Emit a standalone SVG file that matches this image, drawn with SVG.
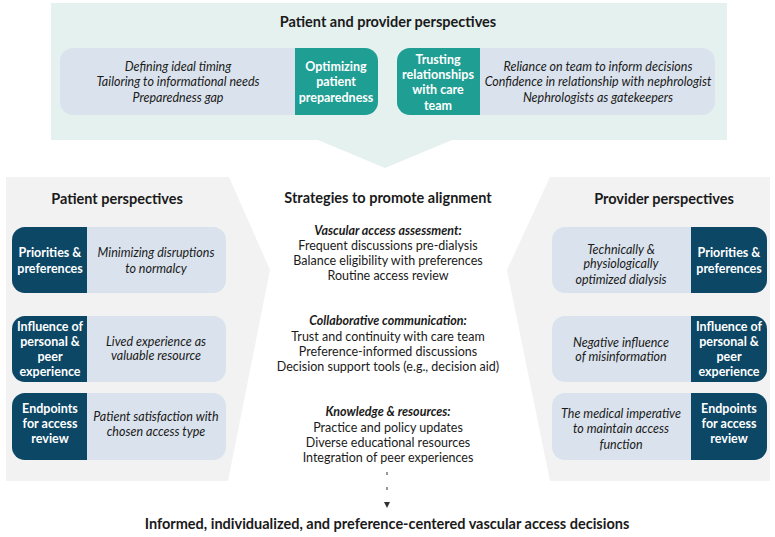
<svg xmlns="http://www.w3.org/2000/svg" width="775" height="537" viewBox="0 0 775 537">
<style>
text{font-family:Lato,"Open Sans","Liberation Sans",sans-serif;text-anchor:middle;fill:#1a1a1a}
.h{font-weight:bold;font-size:14.5px}
.b{font-size:12.5px}
.i{font-style:italic;font-size:12.5px}
.bi{font-style:italic;font-weight:bold;font-size:12.5px}
.w{font-weight:bold;font-size:12.5px;fill:#ffffff}
.lb{fill:#dae3ed}
.tl{fill:#1f9e93}
.nv{fill:#0c4766}
.gr{fill:#f2f2f2}
</style>
<defs>
<marker id="ah" viewBox="0 0 10 10" refX="10" refY="5" markerWidth="6" markerHeight="6" orient="auto" markerUnits="userSpaceOnUse">
<path d="M0 0 L10 5 L0 10 Z" fill="#333"/>
</marker>
</defs>
<!-- Top panel -->
<g id="top-panel">
<path d="M51 3 H727 V140 H452 L385 168 L318 140 H51 Z" fill="#e5f1ef"/>
<text class="h" x="388" y="27">Patient and provider perspectives</text>
</g>
<g id="node-optimizing">
<rect class="lb" x="60" y="48" width="318" height="67" rx="13"/>
<path class="tl" d="M295 48 H365 A13 13 0 0 1 378 61 V102 A13 13 0 0 1 365 115 H295 Z"/>
<text class="i" x="178" y="71">Defining ideal timing</text>
<text class="i" x="178" y="86">Tailoring to informational needs</text>
<text class="i" x="178" y="102">Preparedness gap</text>
<text class="w" x="336" y="71">Optimizing</text>
<text class="w" x="336" y="86">patient</text>
<text class="w" x="336" y="102">preparedness</text>
</g>
<g id="node-trusting">
<rect class="lb" x="397" y="48" width="318" height="67" rx="13"/>
<path class="tl" d="M480 48 H410 A13 13 0 0 0 397 61 V102 A13 13 0 0 0 410 115 H480 Z"/>
<text class="w" x="438" y="64">Trusting</text>
<text class="w" x="438" y="79" textLength="72" lengthAdjust="spacingAndGlyphs">relationships</text>
<text class="w" x="438" y="94">with care</text>
<text class="w" x="438" y="110">team</text>
<text class="i" x="598" y="71">Reliance on team to inform decisions</text>
<text class="i" x="598" y="86">Confidence in relationship with nephrologist</text>
<text class="i" x="598" y="102">Nephrologists as gatekeepers</text>
</g>
<!-- Left panel -->
<g id="patient-panel">
<path class="gr" d="M6 177 H229 L270 270 L228 481 H6 Z"/>
<text class="h" x="117" y="204">Patient perspectives</text>
</g>
<g id="node-p-priorities">
<rect class="lb" x="12" y="227" width="214" height="66" rx="13"/>
<path class="nv" d="M87 227 H25 A13 13 0 0 0 12 240 V280 A13 13 0 0 0 25 293 H87 Z"/>
<text class="w" x="50" y="257">Priorities &amp;</text>
<text class="w" x="50" y="273">preferences</text>
<text class="i" x="156" y="257">Minimizing disruptions</text>
<text class="i" x="156" y="273">to normalcy</text>
</g>
<g id="node-p-influence">
<rect class="lb" x="12" y="316" width="214" height="66" rx="13"/>
<path class="nv" d="M87 316 H25 A13 13 0 0 0 12 329 V369 A13 13 0 0 0 25 382 H87 Z"/>
<text class="w" x="50" y="331">Influence of</text>
<text class="w" x="50" y="346">personal &amp;</text>
<text class="w" x="50" y="361">peer</text>
<text class="w" x="50" y="376">experience</text>
<text class="i" x="156" y="346">Lived experience as</text>
<text class="i" x="156" y="360">valuable resource</text>
</g>
<g id="node-p-endpoints">
<rect class="lb" x="12" y="393" width="214" height="67" rx="13"/>
<path class="nv" d="M87 393 H25 A13 13 0 0 0 12 406 V447 A13 13 0 0 0 25 460 H87 Z"/>
<text class="w" x="50" y="413">Endpoints</text>
<text class="w" x="50" y="428">for access</text>
<text class="w" x="50" y="443">review</text>
<text class="i" x="156" y="421">Patient satisfaction with</text>
<text class="i" x="156" y="436">chosen access type</text>
</g>
<!-- Right panel -->
<g id="provider-panel">
<path class="gr" d="M550 177 H770 V481 H550 L507 270 Z"/>
<text class="h" x="664" y="204">Provider perspectives</text>
</g>
<g id="node-r-priorities">
<rect class="lb" x="552" y="227" width="215" height="66" rx="13"/>
<path class="nv" d="M691 227 H754 A13 13 0 0 1 767 240 V280 A13 13 0 0 1 754 293 H691 Z"/>
<text class="i" x="621" y="254">Technically &amp;</text>
<text class="i" x="621" y="268">physiologically</text>
<text class="i" x="621" y="284">optimized dialysis</text>
<text class="w" x="729" y="257">Priorities &amp;</text>
<text class="w" x="729" y="273">preferences</text>
</g>
<g id="node-r-influence">
<rect class="lb" x="552" y="316" width="215" height="66" rx="13"/>
<path class="nv" d="M691 316 H754 A13 13 0 0 1 767 329 V369 A13 13 0 0 1 754 382 H691 Z"/>
<text class="i" x="621" y="347">Negative influence</text>
<text class="i" x="621" y="361">of misinformation</text>
<text class="w" x="729" y="331">Influence of</text>
<text class="w" x="729" y="346">personal &amp;</text>
<text class="w" x="729" y="361">peer</text>
<text class="w" x="729" y="376">experience</text>
</g>
<g id="node-r-endpoints">
<rect class="lb" x="552" y="393" width="215" height="67" rx="13"/>
<path class="nv" d="M691 393 H754 A13 13 0 0 1 767 406 V447 A13 13 0 0 1 754 460 H691 Z"/>
<text class="i" x="621" y="418">The medical imperative</text>
<text class="i" x="621" y="433">to maintain access</text>
<text class="i" x="621" y="449">function</text>
<text class="w" x="729" y="413">Endpoints</text>
<text class="w" x="729" y="428">for access</text>
<text class="w" x="729" y="443">review</text>
</g>
<!-- Center -->
<g id="strategies">
<text class="h" x="388" y="203">Strategies to promote alignment</text>
<text class="bi" x="388" y="235">Vascular access assessment:</text>
<text class="b" x="388" y="250">Frequent discussions pre-dialysis</text>
<text class="b" x="388" y="265">Balance eligibility with preferences</text>
<text class="b" x="388" y="280">Routine access review</text>
<text class="bi" x="388" y="325">Collaborative communication:</text>
<text class="b" x="388" y="341">Trust and continuity with care team</text>
<text class="b" x="388" y="356">Preference-informed discussions</text>
<text class="b" x="388" y="371">Decision support tools (e.g., decision aid)</text>
<text class="bi" x="388" y="416">Knowledge &amp; resources:</text>
<text class="b" x="388" y="432">Practice and policy updates</text>
<text class="b" x="388" y="447">Diverse educational resources</text>
<text class="b" x="388" y="462">Integration of peer experiences</text>
</g>
<g id="connectors">
<line x1="387" y1="472" x2="387" y2="508" stroke="#333" stroke-width="1" stroke-dasharray="3 12" marker-end="url(#ah)"/>
</g>
<g id="outcome">
<text class="h" x="387" y="529">Informed, individualized, and preference-centered vascular access decisions</text>
</g>
</svg>
